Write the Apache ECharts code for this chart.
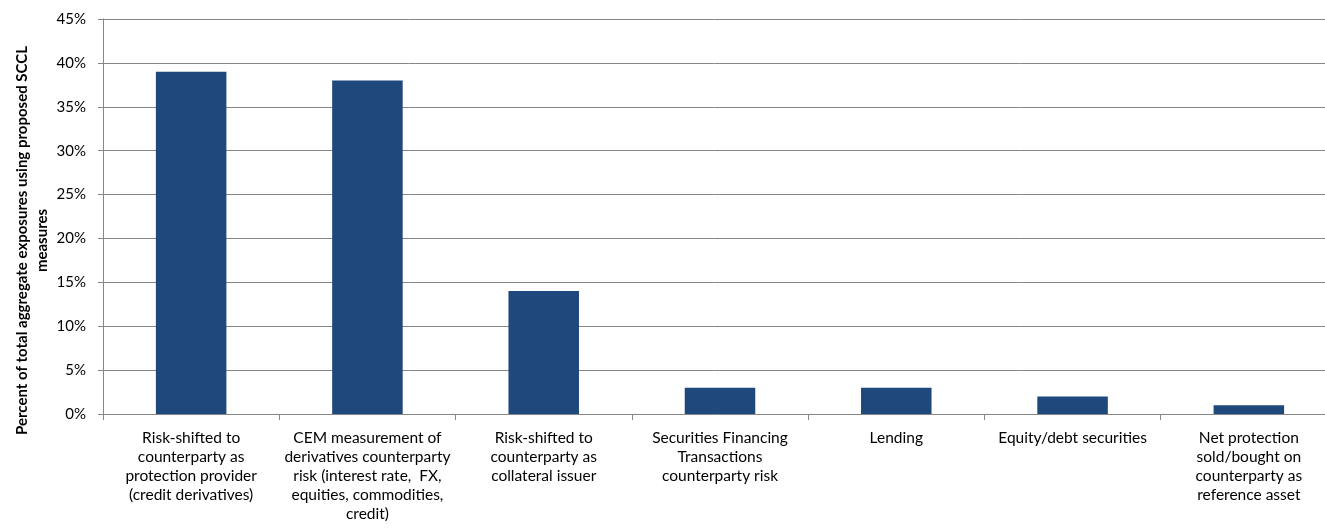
<!DOCTYPE html>
<html>
<head>
<meta charset="utf-8">
<script src="https://cdn.jsdelivr.net/npm/echarts@6/dist/echarts.min.js"></script>
<style>
  html, body { margin: 0; padding: 0; background: #ffffff; }
  #chart { width: 1325px; height: 531px; }
</style>
</head>
<body>
<div id="chart"></div>
<script>
// Exposure categories (line breaks as they wrap under each bar)
const categories = [
  'Risk-shifted to\ncounterparty as\nprotection provider\n(credit derivatives)',
  'CEM measurement of\nderivatives counterparty\nrisk (interest rate,  FX,\nequities, commodities,\ncredit)',
  'Risk-shifted to\ncounterparty as\ncollateral issuer',
  'Securities Financing\nTransactions\ncounterparty risk',
  'Lending',
  'Equity/debt securities',
  'Net protection\nsold/bought on\ncounterparty as\nreference asset'
];

// Share of total aggregate exposures, in percent
const shares = [39, 38, 14, 3, 3, 2, 1];

// Value axis ticks, in percent
const yTicks = { min: 0, max: 45, interval: 5 };

const axisName = 'Percent of total aggregate exposures using proposed SCCL\nmeasures';

const FONT = 'Lato, "Open Sans", sans-serif';
const GRID_GREY = '#868686';

const chart = echarts.init(document.getElementById('chart'), null, { renderer: 'canvas' });

chart.setOption({
  animation: false,
  backgroundColor: '#ffffff',
  grid: {
    left: 103,
    top: 19,
    width: 1234,
    height: 395,
    containLabel: false,
    outerBoundsMode: 'none'
  },
  xAxis: {
    type: 'category',
    data: categories,
    boundaryGap: true,
    axisLine: { show: true, lineStyle: { color: GRID_GREY, width: 1 } },
    axisTick: { show: true, interval: 0, length: 6, lineStyle: { color: GRID_GREY } },
    axisLabel: {
      interval: 0,
      margin: 14,
      color: '#000000',
      fontFamily: FONT,
      fontSize: 15.5,
      lineHeight: 19,
      align: 'center'
    },
    splitLine: { show: false }
  },
  yAxis: {
    type: 'value',
    min: yTicks.min,
    max: yTicks.max,
    interval: yTicks.interval,
    name: axisName,
    nameLocation: 'middle',
    nameRotate: 90,
    nameGap: 51,
    nameMoveOverlap: false,
    nameTextStyle: {
      color: '#000000',
      fontFamily: FONT,
      fontSize: 15,
      fontWeight: 'bold',
      lineHeight: 20,
      align: 'center',
      padding: [0, 0, 0, -48]
    },
    axisLine: { show: true, lineStyle: { color: GRID_GREY, width: 1 } },
    axisTick: { show: true, length: 5, lineStyle: { color: GRID_GREY } },
    axisLabel: {
      formatter: v => v + '%',
      color: '#000000',
      fontFamily: FONT,
      fontSize: 15,
      margin: 17
    },
    splitLine: { show: true, lineStyle: { color: GRID_GREY, width: 1 } }
  },
  series: [{
    type: 'bar',
    data: shares,
    barWidth: '40%',
    itemStyle: { color: '#1F487C' }
  }]
});
</script>
</body>
</html>
